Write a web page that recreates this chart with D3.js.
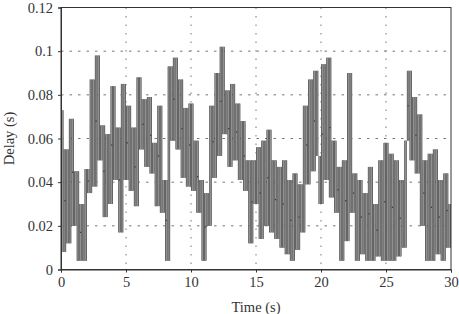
<!DOCTYPE html>
<html>
<head>
<meta charset="utf-8">
<script src="https://cdn.jsdelivr.net/npm/d3@7"></script>
<style>
  body { margin: 0; background: #fff; }
  svg { display: block; }
</style>
</head>
<body>
<div id="chart"></div>
<script>
// delay samples, one every 0.2 s from 0 to 30 s
var sampleStep = 0.2;
var delays = [
  0.073,0.008,0.055,0.012,0.069,0.020,0.045,0.004,0.030,0.004,
  0.046,0.035,0.087,0.038,0.098,0.050,0.066,0.024,0.062,0.030,
  0.084,0.041,0.065,0.017,0.085,0.041,0.075,0.036,0.065,0.029,
  0.088,0.055,0.078,0.047,0.079,0.044,0.058,0.029,0.075,0.026,
  0.041,0.004,0.093,0.059,0.097,0.055,0.087,0.042,0.074,0.038,
  0.076,0.036,0.059,0.026,0.041,0.004,0.035,0.020,0.075,0.042,
  0.090,0.052,0.102,0.062,0.082,0.047,0.085,0.050,0.076,0.041,
  0.068,0.036,0.050,0.012,0.050,0.030,0.056,0.014,0.059,0.020,
  0.064,0.017,0.050,0.014,0.047,0.010,0.050,0.007,0.041,0.004,
  0.044,0.009,0.039,0.017,0.075,0.039,0.087,0.045,0.091,0.052,
  0.030,0.094,0.041,0.097,0.033,0.059,0.026,0.047,0.004,0.050,
  0.013,0.090,0.026,0.044,0.004,0.041,0.007,0.035,0.004,0.047,
  0.004,0.030,0.006,0.050,0.004,0.058,0.004,0.053,0.004,0.050,
  0.006,0.041,0.010,0.059,0.091,0.050,0.079,0.044,0.071,0.020,
  0.050,0.004,0.053,0.004,0.055,0.007,0.041,0.004,0.044,0.010,
  0.030
];
var xTicks = [0, 5, 10, 15, 20, 25, 30];
var yTicks = [0, 0.02, 0.04, 0.06, 0.08, 0.1, 0.12];
var xLabel = "Time (s)";
var yLabel = "Delay (s)";

var W = 459, H = 314;
var plotL = 61, plotR = 451, plotT = 7.5, plotB = 269.5;
var font = "'Liberation Serif', 'DejaVu Serif', serif";

var svg = d3.select("#chart").append("svg")
  .attr("width", W).attr("height", H);

var x = d3.scaleLinear().domain([0, 30]).range([plotL, plotR]);
var y = d3.scaleLinear().domain([0, 0.12]).range([plotB, plotT]);

// dotted grid
svg.append("g").selectAll("line")
  .data(xTicks.slice(1, -1)).enter().append("line")
  .attr("x1", d => x(d)).attr("x2", d => x(d))
  .attr("y1", plotT).attr("y2", plotB)
  .attr("stroke", "#777").attr("stroke-width", 1)
  .attr("stroke-dasharray", "1.5,7");
svg.append("g").selectAll("line")
  .data(yTicks.slice(1, -1)).enter().append("line")
  .attr("x1", plotL).attr("x2", plotR)
  .attr("y1", d => y(d)).attr("y2", d => y(d))
  .attr("stroke", "#777").attr("stroke-width", 1)
  .attr("stroke-dasharray", "2.5,6");

// each jump between consecutive samples is drawn as a vertical stroke,
// dark outline first, gray core on top
var jumps = d3.pairs(delays).map(function(p, i) {
  return { t: (i + 0.5) * sampleStep, a: p[0], b: p[1] };
});
function addStrokes(color, width) {
  svg.append("g").selectAll("line")
    .data(jumps).enter().append("line")
    .attr("x1", d => x(d.t)).attr("x2", d => x(d.t))
    .attr("y1", d => y(d.a)).attr("y2", d => y(d.b))
    .attr("stroke", color).attr("stroke-width", width);
}
addStrokes("#404040", 2.5);
addStrokes("#919191", 1.4);

// small dark marks at the samples
svg.append("g").selectAll("rect")
  .data(jumps.filter((d, i) => i % 3 === 1)).enter().append("rect")
  .attr("x", d => x(d.t) - 0.6).attr("y", d => y((d.a + d.b) / 2) - 0.6)
  .attr("width", 1.2).attr("height", 1.2)
  .attr("fill", "#333");

// frame
svg.append("rect")
  .attr("x", plotL).attr("y", plotT)
  .attr("width", plotR - plotL).attr("height", plotB - plotT)
  .attr("fill", "none").attr("stroke", "#333").attr("stroke-width", 1);

// axes
var xAxis = svg.append("g")
  .attr("transform", "translate(0," + plotB + ")")
  .call(d3.axisBottom(x).tickValues(xTicks).tickSize(3).tickPadding(4)
    .tickFormat(d3.format("d")));
var yAxis = svg.append("g")
  .attr("transform", "translate(" + plotL + ",0)")
  .call(d3.axisLeft(y).tickValues(yTicks).tickSize(3).tickPadding(5)
    .tickFormat(d => d === 0 ? "0" : String(+d.toFixed(2))));

[xAxis, yAxis].forEach(function(g) {
  g.select(".domain").attr("stroke", "#333");
  g.selectAll(".tick line").attr("stroke", "#333");
  g.selectAll(".tick text")
    .attr("font-family", font).attr("font-size", 14.5).attr("fill", "#333");
});

svg.append("text")
  .attr("x", (plotL + plotR) / 2).attr("y", 312)
  .attr("text-anchor", "middle")
  .attr("font-family", font).attr("font-size", 14.5).attr("fill", "#333")
  .text(xLabel);

svg.append("text")
  .attr("transform", "translate(14," + (plotT + plotB) / 2 + ") rotate(-90)")
  .attr("text-anchor", "middle")
  .attr("font-family", font).attr("font-size", 14.5).attr("fill", "#333")
  .text(yLabel);
</script>
</body>
</html>
